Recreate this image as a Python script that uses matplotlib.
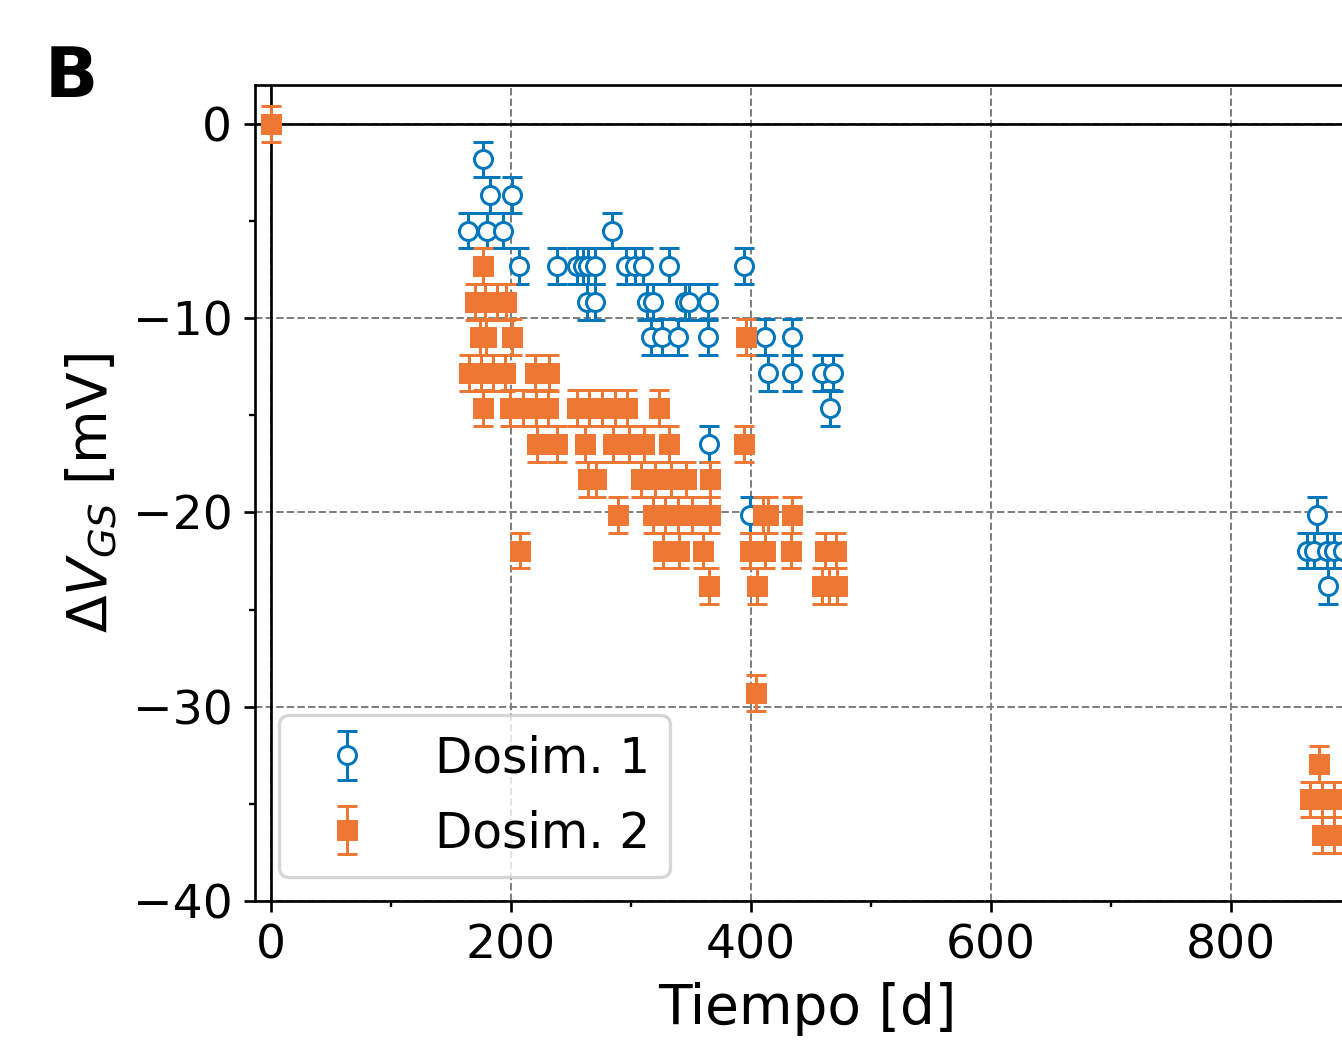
import matplotlib
matplotlib.use("Agg")
import matplotlib.pyplot as plt
from matplotlib.ticker import MultipleLocator

# ---------------- data ----------------
blue_t = [176.7, 182.5, 201, 164, 180, 193, 284,
          206.7, 238, 255, 260, 264, 270, 296, 303, 310, 331.7, 394,
          263, 270, 313, 318, 345, 348, 364,
          317, 325.5, 339, 364, 411.7, 433.8,
          414, 434, 459, 468,
          466, 365, 399,
          872, 863, 869, 880, 886, 893, 880.5]
blue_dv = [-1.83, -3.66, -3.66, -5.49, -5.49, -5.49, -5.49,
           -7.32, -7.32, -7.32, -7.32, -7.32, -7.32, -7.32, -7.32, -7.32, -7.32, -7.32,
           -9.15, -9.15, -9.15, -9.15, -9.15, -9.15, -9.15,
           -10.98, -10.98, -10.98, -10.98, -10.98, -10.98,
           -12.81, -12.81, -12.81, -12.81,
           -14.64, -16.47, -20.13,
           -20.13, -21.96, -21.96, -21.96, -21.96, -21.96, -23.79]

orange_t = [0,
            177,
            170, 178, 188, 196,
            174, 179.5, 201, 396,
            165, 175, 185, 195, 220, 231.5,
            177, 199, 210, 221, 231, 255, 265, 276, 287, 297, 323,
            222, 238, 262, 285, 298, 311, 332, 394,
            264, 271, 308, 320, 333, 346, 366,
            289, 318, 328, 339, 351, 366, 410, 414, 434,
            207.5, 327, 340, 360, 399, 412, 433, 462, 471,
            365, 405, 459, 465, 472,
            404,
            873,
            866, 876, 886, 893,
            876, 886, 893]
orange_dv = [0.0,
             -7.32,
             -9.15, -9.15, -9.15, -9.15,
             -10.98, -10.98, -10.98, -10.98,
             -12.81, -12.81, -12.81, -12.81, -12.81, -12.81,
             -14.64, -14.64, -14.64, -14.64, -14.64, -14.64, -14.64, -14.64, -14.64, -14.64, -14.64,
             -16.47, -16.47, -16.47, -16.47, -16.47, -16.47, -16.47, -16.47,
             -18.30, -18.30, -18.30, -18.30, -18.30, -18.30, -18.30,
             -20.13, -20.13, -20.13, -20.13, -20.13, -20.13, -20.13, -20.13, -20.13,
             -21.96, -21.96, -21.96, -21.96, -21.96, -21.96, -21.96, -21.96, -21.96,
             -23.79, -23.79, -23.79, -23.79, -23.79,
             -29.28,
             -32.94,
             -34.77, -34.77, -34.77, -34.77,
             -36.60, -36.60, -36.60]
dv_err = 0.92

labels = ["Dosim. 1", "Dosim. 2"]
x_ticks = [0, 200, 400, 600, 800]
y_ticks = [0, -10, -20, -30, -40]

BLUE = "#0077BB"
ORANGE = "#EE7733"

# ---------------- figure ----------------
W, H, DPI = 1342, 1046, 240
fig = plt.figure(figsize=(W / DPI, H / DPI), dpi=DPI)
ax = fig.add_axes([255 / W, (H - 901) / H, (1360 - 255) / W, (901 - 85) / H])

ax.axhline(0, color="k", lw=0.8, zorder=1.5)
ax.axvline(0, color="k", lw=0.8, zorder=1.5)

ax.errorbar(blue_t, blue_dv, yerr=dv_err, fmt="o", color=BLUE, mfc="white",
            mec=BLUE, ms=5.4, mew=0.9, elinewidth=0.9, capsize=3, capthick=0.9,
            label=labels[0], zorder=3)
ax.errorbar(orange_t, orange_dv, yerr=dv_err, fmt="s", color=ORANGE,
            mec=ORANGE, ms=5.4, mew=0.9, elinewidth=0.9, capsize=3, capthick=0.9,
            label=labels[1], zorder=4)

ax.set_xlim(-13.3, 907.5)
ax.set_ylim(-40, 2.0)
ax.set_xticks(x_ticks)
ax.set_yticks(y_ticks)
ax.xaxis.set_minor_locator(MultipleLocator(100))
ax.yaxis.set_minor_locator(MultipleLocator(5))
ax.tick_params(which="major", labelsize=14.2, length=3.3, width=0.8, colors="k")
ax.tick_params(which="minor", length=1.8, width=0.7)
ax.grid(True, which="major", ls="--", color="0.5", lw=0.6)
ax.set_axisbelow(True)
for s in ax.spines.values():
    s.set_linewidth(0.8)
    s.set_color("k")

ax.set_xlabel("Tiempo [d]", fontsize=16.5)
ax.set_ylabel(r"$\Delta V_{GS}$ [mV]", fontsize=16.5)

ax.legend(loc="lower left", fontsize=14.6, handletextpad=0.8, labelspacing=0.55,
          borderpad=0.4)

fig.text(45 / W, 1 - 97 / H, "B", fontsize=21, fontweight="bold", va="baseline")

fig.savefig("out.png", dpi=DPI)
